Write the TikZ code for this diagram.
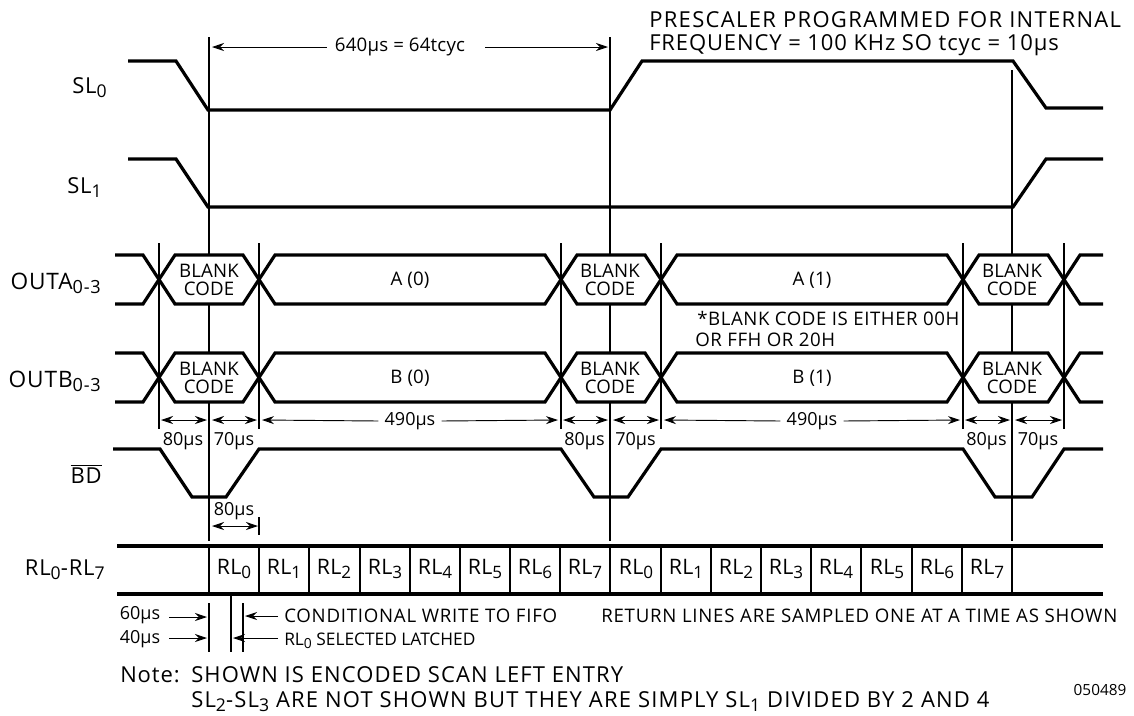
\documentclass[tikz,border=0pt]{standalone}
\usepackage{graphicx}
\usepackage{fontspec}
\setmainfont{Open Sans}
\usetikzlibrary{arrows.meta}
\newcommand{\lowtxt}[1]{\raisebox{-.4ex}{\scalebox{.8}{#1}}}
\tikzset{
  sig/.style={line width=2.4pt,line join=miter},
  tim/.style={line width=.8pt},
  dim/.style={line width=.7pt,<->},
  arr/.style={line width=.7pt,->},
  txt/.style={inner sep=0pt,anchor=base west,font=\fontsize{14}{16}\selectfont\addfontfeatures{LetterSpace=4}},
  big/.style={inner sep=0pt,anchor=base east,font=\fontsize{16.5}{18}\selectfont\addfontfeatures{LetterSpace=4}},
  mid/.style={inner sep=0pt,font=\fontsize{14}{16}\selectfont\addfontfeatures{LetterSpace=1}},
  wid/.style={inner sep=0pt,font=\fontsize{13.5}{16}\selectfont},
  cell/.style={inner sep=0pt,font=\fontsize{16}{18}\selectfont\addfontfeatures{LetterSpace=1}},
}
\begin{document}
\begin{tikzpicture}[>={Stealth[length=9pt,width=6pt]},x=.75pt,y=-.75pt]
\useasboundingbox (0,0) rectangle (1134,715);
% select lines
\draw[sig] (128,61)--(176,61)--(208,110)--(610,110)--(642,61)--(1013,61)--(1046,108)--(1103,108);
\draw[sig] (128,159)--(176,159)--(208,207)--(1013,207)--(1046,159)--(1103,159);
\node[big] (slzero) at (107,93){SL\lowtxt{0}};
\node[big] (slone) at (102,193){SL\lowtxt{1}};
% output buses
\foreach \sh/\ch in {0/A,-73.5/B}{
\begin{scope}[yshift=\sh pt]
\draw[sig] (115,255)--(143,255)--(175,304)--(243,304)--(275,255)--(545,255)--(577,304)--(645,304)--(677,255)--(947,255)--(979,304)--(1048,304)--(1080,255)--(1103,255);
\draw[sig] (115,304)--(143,304)--(175,255)--(243,255)--(275,304)--(545,304)--(577,255)--(645,255)--(677,304)--(947,304)--(979,255)--(1048,255)--(1080,304)--(1103,304);
\node[big,font=\fontsize{17}{19}\selectfont\addfontfeatures{LetterSpace=4}] (out\ch) at (101,289){OUT\ch\lowtxt{0-3}};
\node[mid] (zero\ch) at (410,280){\ch\ (0)};
\node[mid] (one\ch) at (812,280){\ch\ (1)};
\foreach \x/\n in {209/p,610/q,1012/r}{
  \node[mid] (bl\ch\n) at (\x,271){BLANK};
  \node[mid] (co\ch\n) at (\x,289){CODE};
}
\end{scope}
}
\node[txt,font=\fontsize{14}{16}\selectfont\addfontfeatures{LetterSpace=3}] (noteone) at (697,325){*BLANK CODE IS EITHER 00H};
\node[txt,font=\fontsize{14}{16}\selectfont\addfontfeatures{LetterSpace=3}] (notetwo) at (695,346){OR FFH OR 20H};
% timing marks
\foreach \x in {159,259,561,661,963,1064}
  \draw[tim] (\x,243)--(\x,429);
\foreach \x/\y in {209/37,610/37,1012/70}{
  \draw[tim] (\x,\y)--(\x,255);
  \draw[tim] (\x,304)--(\x,353);
  \draw[tim] (\x,401)--(\x,541);
}
\draw[tim] (259,517)--(259,535);
\node[big,anchor=base west,font=\fontsize{16.5}{18}\selectfont\addfontfeatures{LetterSpace=6}] (prea) at (649,27){PRESCALER PROGRAMMED FOR INTERNAL};
\node[big,anchor=base west,font=\fontsize{16.5}{18}\selectfont\addfontfeatures{LetterSpace=4}] (preb) at (649,50){FREQUENCY = 100 KHz SO tcyc = 10µs};
\node[mid] (cyc) at (400,47){640µs = 64tcyc};
\draw[arr] (cyc.west)++(-8,0)--(212,47);
\draw[arr] (cyc.east)++(20,0)--(608,47);
% widths
\foreach \a/\b/\c in {159/209/259,561/610/661,963/1012/1064}{
  \draw[dim] (\a+2,420)--(\b-2,420);
  \draw[dim] (\b+3,420)--(\c-2,420);
  \node[wid] (wa\a) at ({(\a+\b)/2-1},441){80µs};
  \node[wid] (wb\a) at ({(\b+\c)/2},441){70µs};
}
\node[wid] (wide) at (410,421){490µs};
\node[wid] (widf) at (812,421){490µs};
\draw[arr] (wide.west)++(-6,0)--(262,420);
\draw[arr] (wide.east)++(6,0)--(558,420);
\draw[arr] (widf.west)++(-6,0)--(664,420);
\draw[arr] (widf.east)++(6,0)--(960,420);
% BD
\draw[sig] (113,449)--(160,449)--(192,497)--(226,497)--(259,449)--(561,449)--(594,497)--(628,497)--(661,449)--(963,449)--(995,497)--(1032,497)--(1064,449)--(1103,449);
\node[big] (bdbar) at (102,483){$\overline{\mbox{BD}}$};
\node[wid] (eighty) at (234,511){80µs};
\draw[dim] (212,526)--(258,526);
% return lines
\draw[sig] (117,546)--(1103,546);
\draw[sig] (117,594)--(1103,594);
\foreach \x in {209,259,309,360,410,460,510,560,610,661,711,761,811,861,912,962,1012}
  \draw[tim] (\x,546)--(\x,594);
\node[big] (rlall) at (105,575){RL\lowtxt{0}-RL\lowtxt{7}};
\foreach \x/\n in {234/0,284/1,334/2,385/3,435/4,485/5,535/6,585/7,636/0,686/1,736/2,786/3,836/4,887/5,937/6,987/7}
  \node[cell] (rl\x) at (\x,569){RL\lowtxt{\n}};
% sample times
\draw[sig,line width=1.6pt] (209,603)--(209,652);
\draw[sig,line width=1.6pt] (231,594)--(231,652);
\draw[sig,line width=1.6pt] (243,603)--(243,652);
\node[wid] (sixty) at (140,615){60µs};
\node[wid] (forty) at (140,639){40µs};
\draw[arr] (169,617)--(207,617);
\draw[arr] (169,638)--(207,638);
\node[txt] (condw) at (284,622){CONDITIONAL WRITE TO FIFO};
\node[txt,font=\fontsize{13}{15}\selectfont] (rlsel) at (284,645){RL\lowtxt{0} SELECTED LATCHED};
\node[txt] (retn) at (601,622){RETURN LINES ARE SAMPLED ONE AT A TIME AS SHOWN};
\draw[arr] (278,616)--(245,616);
\draw[arr] (278,638)--(233,638);
\node[big,anchor=base west] (notea) at (120,682){Note:};
\node[big,anchor=base west,font=\fontsize{16.5}{18}\selectfont\addfontfeatures{LetterSpace=5}] (noteb) at (191,682){SHOWN IS ENCODED SCAN LEFT ENTRY};
\node[big,anchor=base west,font=\fontsize{16.5}{18}\selectfont\addfontfeatures{LetterSpace=5.5}] (notec) at (191,707){SL\lowtxt{2}-SL\lowtxt{3} ARE NOT SHOWN BUT THEY ARE SIMPLY SL\lowtxt{1} DIVIDED BY 2 AND 4};
\node[inner sep=0pt,font=\fontsize{11.5}{13}\selectfont] (stamp) at (1100,690){050489};
\end{tikzpicture}
\end{document}
